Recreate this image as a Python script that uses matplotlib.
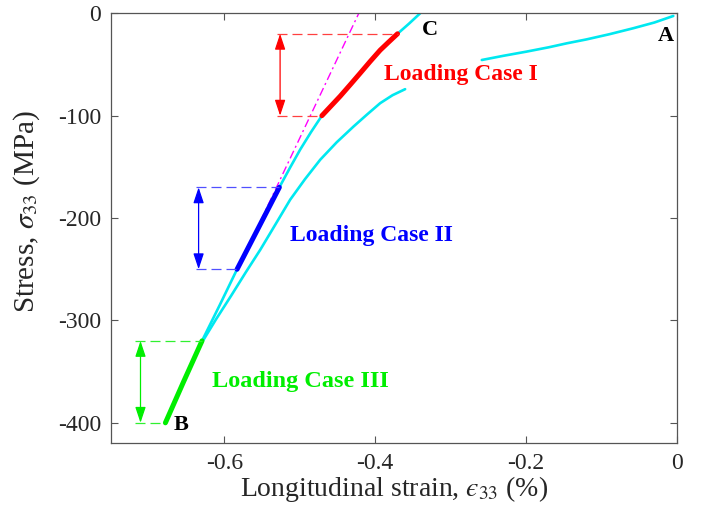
import matplotlib
matplotlib.use("Agg")
import matplotlib.pyplot as plt

plt.rcParams['font.family'] = ['Liberation Serif', 'DejaVu Serif']
plt.rcParams['mathtext.fontset'] = 'stix'

# ---- data (strain in %, stress in MPa) ----
upper_x = [-0.678, -0.654, -0.6295, -0.606, -0.583, -0.555, -0.527, -0.513, -0.4993, -0.485,
           -0.4706, -0.4585, -0.4464, -0.433, -0.4199, -0.4066, -0.3934, -0.382, -0.3704, -0.355, -0.3404]
upper_y = [-400, -360, -320, -285, -250, -210, -170, -151, -133, -116,
           -100, -90.5, -81, -69.7, -58.5, -47, -36, -28, -20, -10, 0]

lower_x = [-0.630, -0.611, -0.591, -0.5715, -0.5523, -0.532, -0.5126, -0.493, -0.4728, -0.451,
           -0.4287, -0.411, -0.3934, -0.377, -0.3603]
lower_y = [-322, -299, -276, -253, -231, -206, -182, -162, -143, -126,
           -110.6, -99, -87.8, -80, -74.1]

branchA_x = [-0.2587, -0.23, -0.20, -0.17, -0.146, -0.12, -0.09, -0.058, -0.03, -0.0049]
branchA_y = [-45.6, -41.5, -37.5, -33.2, -29.3, -25.5, -20.5, -14.6, -9, -2.6]

case1_x = [-0.4706, -0.4585, -0.4464, -0.433, -0.4199, -0.4066, -0.3934, -0.382, -0.3704]
case1_y = [-100, -90.5, -81, -69.7, -58.5, -47, -36, -28, -20]
case2_x = [-0.583, -0.555, -0.527]
case2_y = [-250, -210, -170]
case3_x = [-0.678, -0.654, -0.6295]
case3_y = [-400, -360, -320]

tangent_x = [-0.552, -0.4217]
tangent_y = [-203, 0]

# dashed guide ranges: (y, x_start, x_end)
case1_guides = [(-20, -0.530, -0.3704), (-100, -0.530, -0.4706)]
case2_guides = [(-170, -0.638, -0.527), (-250, -0.638, -0.583)]
case3_guides = [(-320, -0.718, -0.6295), (-400, -0.718, -0.678)]
arrow_x = [-0.526, -0.634, -0.711]

labels = ["Loading Case I", "Loading Case II", "Loading Case III"]
colors = ["#ff0000", "#0000ff", "#00ee00"]
guide_colors = ["#ff4040", "#5050ff", "#30f030"]
xticks = [-0.6, -0.4, -0.2, 0]
xticklabels = ["-0.6", "-0.4", "-0.2", "0"]
yticks = [-400, -300, -200, -100, 0]
yticklabels = ["-400", "-300", "-200", "-100", "0"]

fig = plt.figure(figsize=(7.03, 5.22), dpi=100)
ax = fig.add_axes([0.158, 0.1508, 0.805, 0.8237])

cyan = "#00e8f0"
for xs, ys in [(upper_x, upper_y), (lower_x, lower_y), (branchA_x, branchA_y)]:
    ax.plot(xs, ys, color=cyan, lw=1.9, solid_capstyle='round', solid_joinstyle='round')
ax.plot(tangent_x, tangent_y, color="#ff00ff", lw=1.0, linestyle=(0, (6, 2.5, 1.5, 2.5)))

for (cx, cy, guides, a_x, col, gcol) in [
        (case1_x, case1_y, case1_guides, arrow_x[0], colors[0], guide_colors[0]),
        (case2_x, case2_y, case2_guides, arrow_x[1], colors[1], guide_colors[1]),
        (case3_x, case3_y, case3_guides, arrow_x[2], colors[2], guide_colors[2])]:
    ax.plot(cx, cy, color=col, lw=3.6, solid_capstyle='round', solid_joinstyle='round')
    for (gy, gx0, gx1) in guides:
        ax.plot([gx0, gx1], [gy, gy], color=gcol, lw=0.9, dashes=(8, 4))
    ax.annotate('', xy=(a_x, guides[1][0]), xytext=(a_x, guides[0][0]),
                arrowprops=dict(arrowstyle='<|-|>,head_length=0.6,head_width=0.2',
                                color=col, lw=0.9, mutation_scale=16,
                                shrinkA=0, shrinkB=0))

ax.text(-0.388, -60, labels[0], color=colors[0], fontsize=17, fontweight='bold', va='center', ha='left')
ax.text(-0.5126, -217, labels[1], color=colors[1], fontsize=17, fontweight='bold', va='center', ha='left')
ax.text(-0.616, -360, labels[2], color=colors[2], fontsize=17.5, fontweight='bold', va='center', ha='left')

ax.text(-0.327, -16, "C", fontsize=16, fontweight='bold', ha='center', va='center')
ax.text(-0.0146, -22, "A", fontsize=16, fontweight='bold', ha='center', va='center')
ax.text(-0.657, -402, "B", fontsize=16, fontweight='bold', ha='center', va='center')

ax.set_xlim(-0.75, 0)
ax.set_ylim(-420, 0)
ax.set_xticks(xticks)
ax.set_xticklabels(xticklabels)
ax.set_yticks(yticks)
ax.set_yticklabels(yticklabels)
ax.tick_params(direction='in', top=True, right=True, length=5, width=0.8,
               labelsize=17, colors='#555555', labelcolor='#262626', pad=7)
for s in ax.spines.values():
    s.set_color('#555555')
    s.set_linewidth(0.9)

ax.set_xlabel("Longitudinal strain, $\u03f5_{33}$ (%)", fontsize=20, color='#262626', labelpad=0)
ax.set_ylabel(r"Stress, $\sigma_{33}$ (MPa)", fontsize=21, color='#262626')
ax.yaxis.set_label_coords(-0.122, 0.54)

fig.savefig("out.png", dpi=100)
